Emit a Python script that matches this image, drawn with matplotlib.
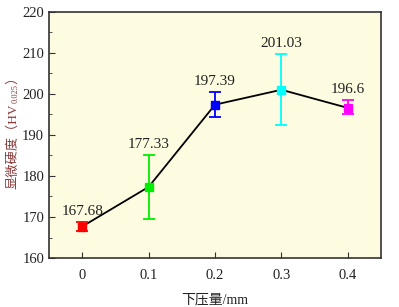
import matplotlib
matplotlib.use("Agg")
import matplotlib.pyplot as plt
from matplotlib.ticker import MultipleLocator

x = [0, 0.1, 0.2, 0.3, 0.4]
hardness = [167.68, 177.33, 197.39, 201.03, 196.6]
err_lo = [1.0, 7.8, 2.9, 8.6, 1.6]
err_hi = [1.0, 7.7, 3.0, 8.8, 1.9]
labels = ["167.68", "177.33", "197.39", "201.03", "196.6"]
colors = ["#ff0000", "#00ee00", "#0000ff", "#00ffff", "#ff00ff"]
xticks = [0, 0.1, 0.2, 0.3, 0.4]
xtick_labels = ["0", "0.1", "0.2", "0.3", "0.4"]
ylabel_parts = ["显微硬度（HV", "0.025", "）"]

plt.rcParams['font.family'] = ['Liberation Serif', 'Noto Sans CJK SC']

fig = plt.figure(figsize=(3.99, 3.07), dpi=100)
ax = fig.add_axes([0.1228, 0.1596, 0.9549 - 0.1228, 0.961 - 0.1596])
ax.set_facecolor('#fdfbe0')

ax.plot(x, hardness, color='black', lw=1.3, zorder=2)
for xi, yi, lo, hi, c, lab in zip(x, hardness, err_lo, err_hi, colors, labels):
    ax.errorbar([xi], [yi], yerr=[[lo], [hi]], fmt='s', color=c, ms=6,
                capsize=4, elinewidth=1.3, capthick=1.3, zorder=3)
    ax.annotate(lab, (xi, yi + hi), xytext=(0, 3), textcoords='offset points',
                ha='center', va='bottom', fontsize=11, color='#222222')

ax.set_xlim(-0.05, 0.45)
ax.set_ylim(160, 220)
ax.set_xticks(xticks)
ax.set_xticklabels(xtick_labels)
ax.yaxis.set_major_locator(MultipleLocator(10))
ax.yaxis.set_minor_locator(MultipleLocator(5))
ax.tick_params(axis='both', direction='in', labelsize=10.5, colors='#333333',
               labelcolor='#222222', length=4)
ax.tick_params(axis='y', which='minor', direction='in', length=2.5, color='#333333')
ax.tick_params(axis='x', pad=8)
for s in ax.spines.values():
    s.set_color('#333333')
    s.set_linewidth(1.2)

ax.set_xlabel('下压量/mm', fontsize=10, color='#222222', labelpad=8)

# y label assembled from pieces (main text, subscript, closing bracket)
ycol = '#8b3a3a'
fig.canvas.draw()
renderer = fig.canvas.get_renderer()
sizes = [9.5, 6, 9.5]
pieces = []
for txt, fs in zip(ylabel_parts, sizes):
    t = fig.text(0, 0, txt, rotation=90, fontsize=fs, color=ycol,
                 ha='center', va='bottom')
    pieces.append(t)
fig.canvas.draw()
heights = [p.get_window_extent(renderer).height for p in pieces]
total = sum(heights)
ycenter_px = 307 - 130
start = ycenter_px - total / 2
for i, (p, h) in enumerate(zip(pieces, heights)):
    xpx = 13 + (3 if i == 1 else 0)
    p.set_position((xpx / 399.0, start / 307.0))
    start += h

fig.savefig('out.png', dpi=100)
